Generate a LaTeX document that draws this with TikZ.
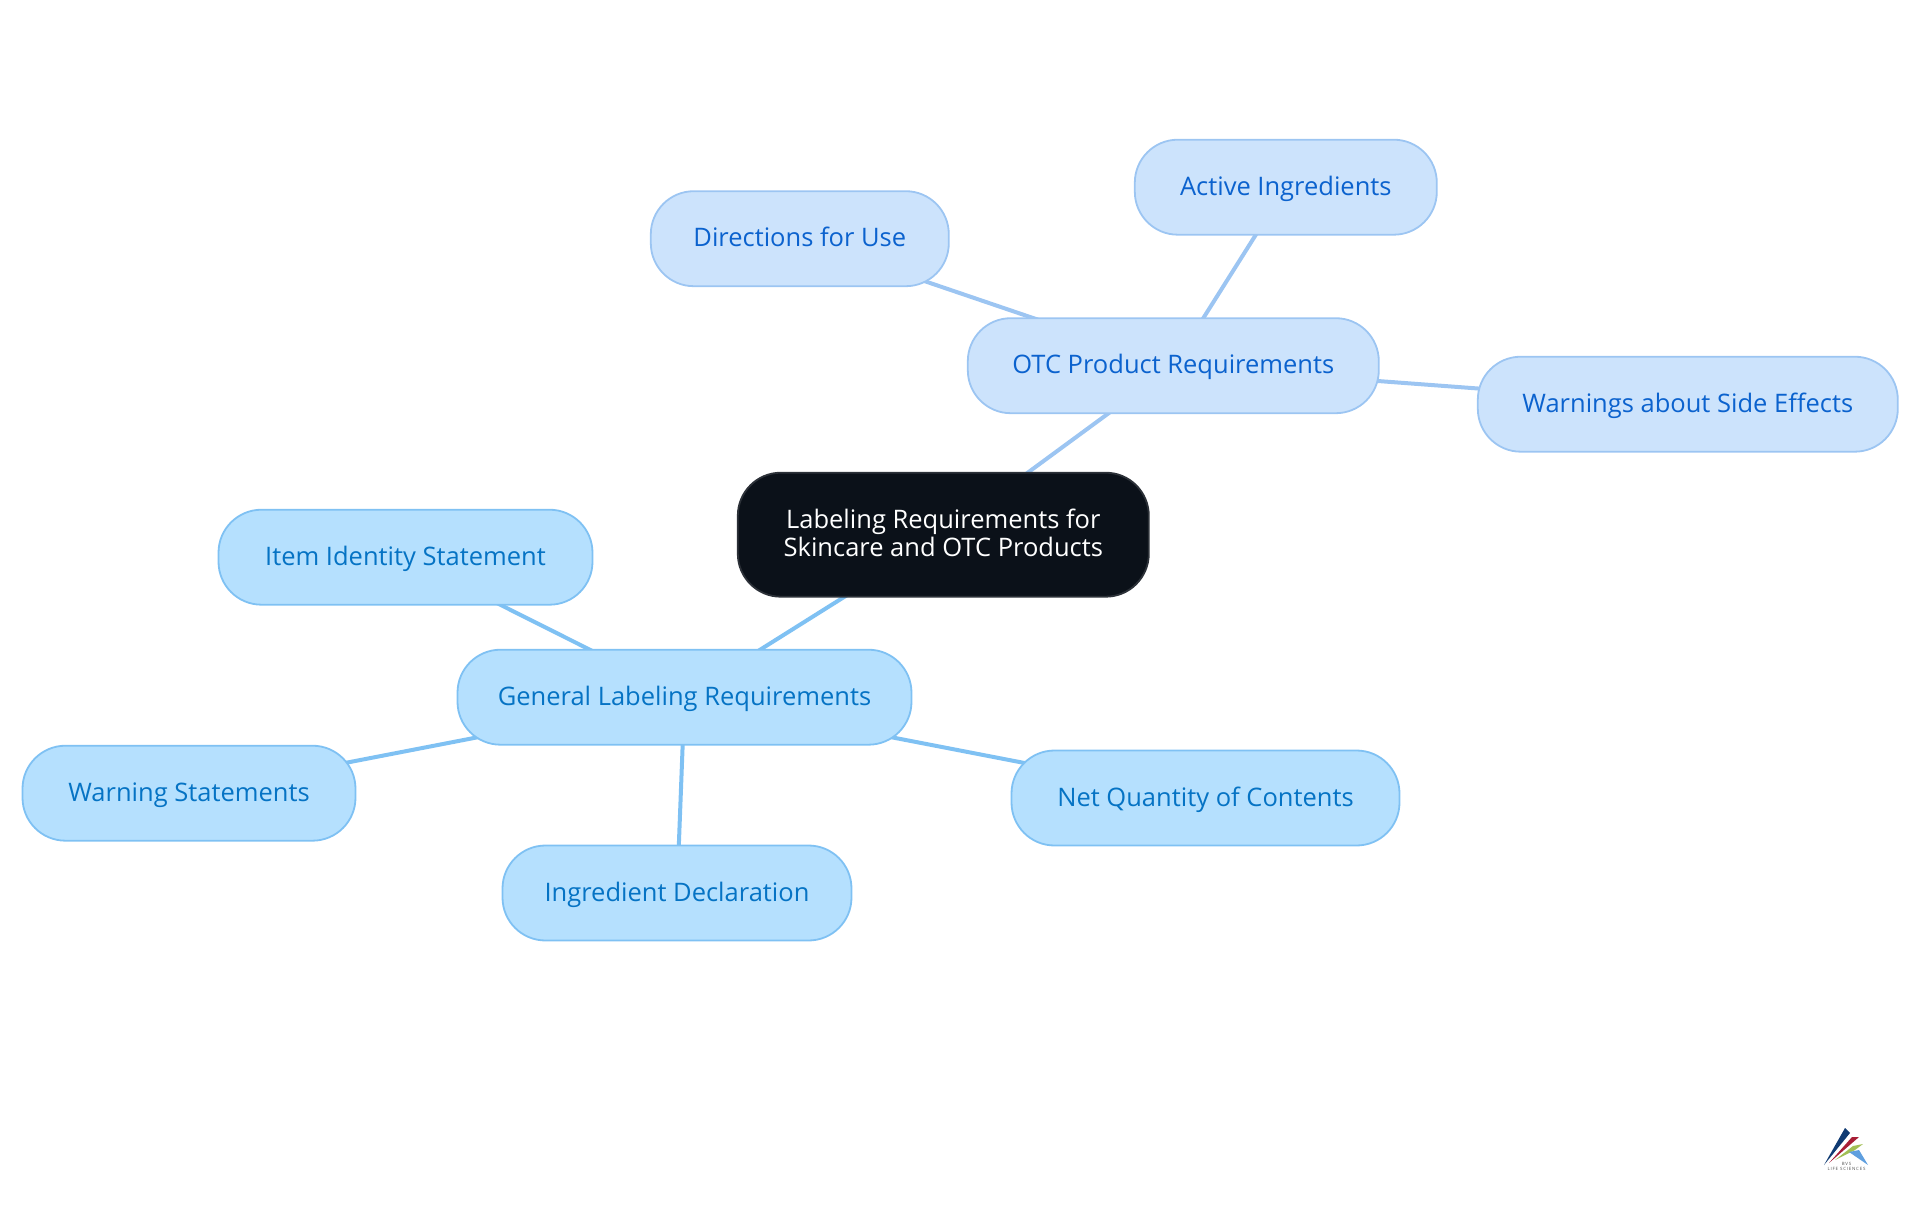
\documentclass[tikz,border=0pt]{standalone}
\usepackage{fontspec}
\setmainfont{Open Sans}
\newfontfamily\logofont[LetterSpace=18]{Open Sans}
\usetikzlibrary{backgrounds}
\definecolor{otcfill}{HTML}{CCE3FC}
\definecolor{otcline}{HTML}{9CC5F2}
\definecolor{otctext}{HTML}{0B62CE}
\definecolor{genfill}{HTML}{B5E0FE}
\definecolor{genline}{HTML}{7FC1F3}
\definecolor{gentext}{HTML}{0573C4}
\definecolor{rootfill}{HTML}{0B1119}
\definecolor{rootline}{HTML}{2C3138}
\definecolor{logonavy}{HTML}{0F3A72}
\definecolor{logored}{HTML}{A71E36}
\definecolor{logogreen}{HTML}{A2BF55}
\definecolor{logoblue}{HTML}{5F9FDF}
\tikzset{
  basebox/.style={rounded corners=43pt,inner sep=0pt,line width=1.8pt,align=center,font=\fontsize{25.5}{28}\selectfont},
  rootbox/.style={basebox,draw=rootline,fill=rootfill,text=white,minimum width=411pt,minimum height=124pt,text depth=3.5pt},
  otcbox/.style={basebox,draw=otcline,fill=otcfill,text=otctext,minimum height=95pt,text height=19pt,text depth=3pt},
  genbox/.style={basebox,draw=genline,fill=genfill,text=gentext,minimum height=95pt,text height=19pt,text depth=3pt},
  otcedge/.style={draw=otcline,line width=4pt},
  genedge/.style={draw=genline,line width=4pt}
}
\begin{document}
\begin{tikzpicture}[x=1pt,y=-1pt]
\useasboundingbox (0,0) rectangle (1920,1215);
\node[rootbox] (root) at (943.3,534.7) {Labeling Requirements for\\Skincare and OTC Products};
\node[otcbox,minimum width=411pt] (otc) at (1173.3,365.7) {OTC Product Requirements};
\node[otcbox,minimum width=302pt] (active) at (1285.8,187.2) {Active Ingredients};
\node[otcbox,minimum width=298pt] (directions) at (799.8,238.7) {Directions for Use};
\node[otcbox,minimum width=420pt] (warnings) at (1687.8,404.2) {Warnings about Side Effects};
\node[genbox,minimum width=454pt] (general) at (684.5,697.2) {General Labeling Requirements};
\node[genbox,minimum width=374pt] (item) at (405.5,557.2) {Item Identity Statement};
\node[genbox,minimum width=333pt] (warnst) at (189,793.2) {Warning Statements};
\node[genbox,minimum width=349pt] (ingredient) at (677,893) {Ingredient Declaration};
\node[genbox,minimum width=388pt] (net) at (1205.5,798) {Net Quantity of Contents};
\begin{scope}[on background layer]
\draw[otcedge] (root.center) -- (otc.center);
\draw[otcedge] (otc.center) -- (active.center);
\draw[otcedge] (otc.center) -- (directions.center);
\draw[otcedge] (otc.center) -- (warnings.center);
\draw[genedge] (root.center) -- (general.center);
\draw[genedge] (general.center) -- (item.center);
\draw[genedge] (general.center) -- (warnst.center);
\draw[genedge] (general.center) -- (ingredient.center);
\draw[genedge] (general.center) -- (net.center);
\end{scope}
% logo
\fill[logonavy] (1824,1165) -- (1845,1128) -- (1850,1133) -- cycle;
\fill[logored] (1829,1163) -- (1852,1137) -- (1859,1137) -- cycle;
\fill[logogreen] (1835,1160) -- (1853,1146) -- (1863,1144) -- (1855,1150) -- cycle;
\fill[logoblue] (1849,1152) -- (1859,1150) -- (1868,1165) -- cycle;
\node[inner sep=0pt,font=\logofont\fontsize{4.4}{5}\selectfont,align=center,text=black!70] (logotext) at (1846.5,1166.5) {BVS\\LIFE SCIENCES};
\end{tikzpicture}
\end{document}
